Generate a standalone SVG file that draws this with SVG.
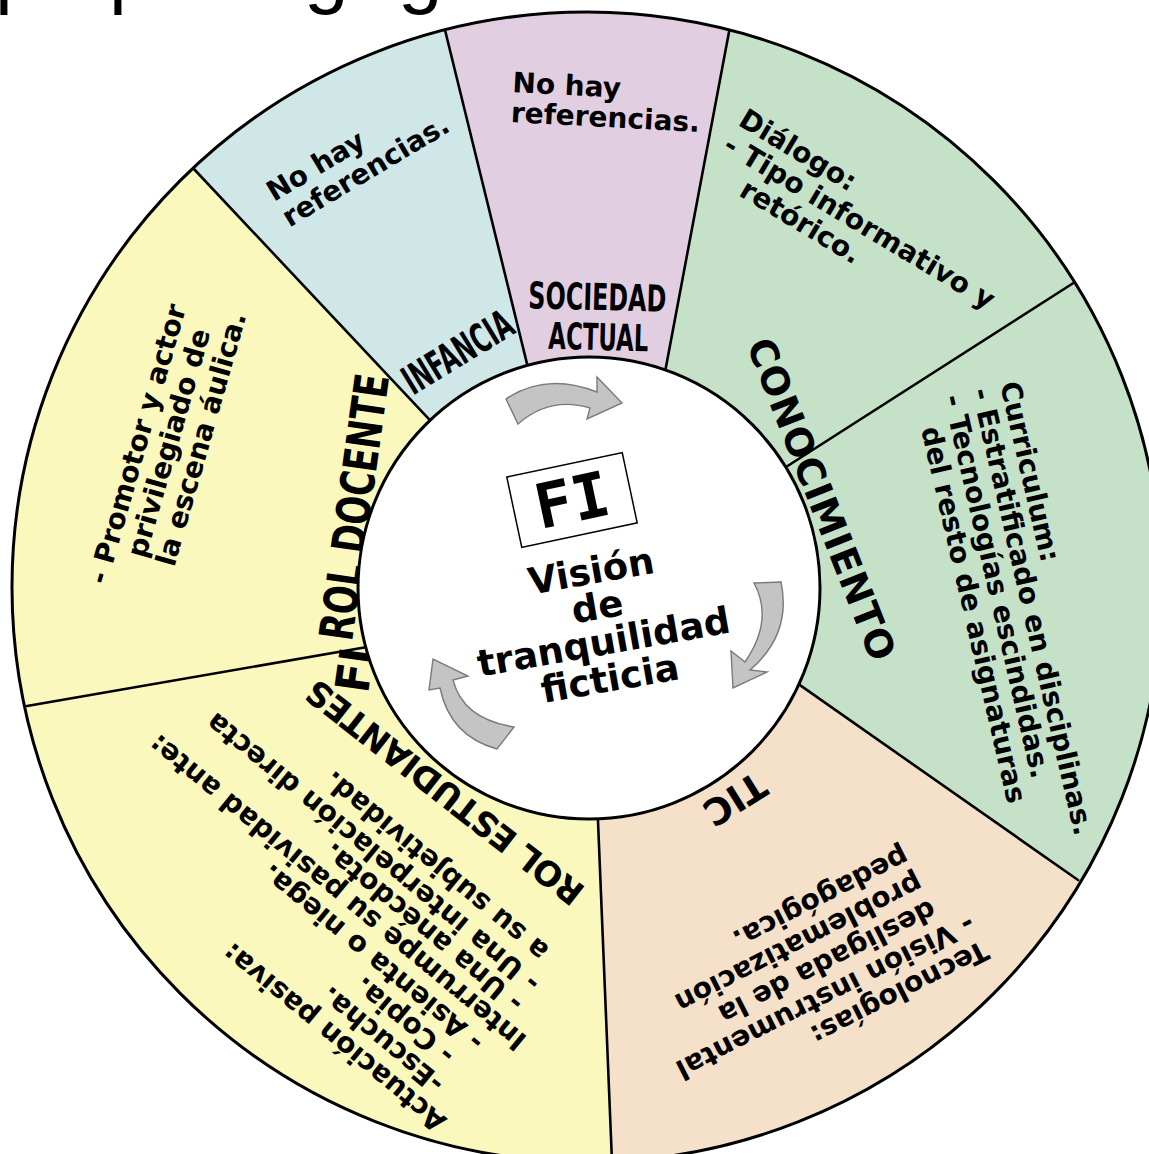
<svg xmlns="http://www.w3.org/2000/svg" width="1149" height="1154" viewBox="0 0 1149 1154">
<defs>
<style>
text{font-family:"DejaVu Sans",Verdana,"Liberation Sans",sans-serif;font-weight:bold;fill:#000}
.b{font-size:28px}
.s{font-size:28px}
.div{stroke:#000;stroke-width:2.6;fill:none;stroke-linecap:round}
.arr{fill:#C4C4C4;stroke:#7a7a7a;stroke-width:1.4;stroke-linejoin:miter}
.frag{font-family:"Liberation Sans",Arial,sans-serif;font-weight:normal;font-size:80px}
.yel{fill:#FBF8BE}
.grn{fill:#C5E2C9}
</style>
<clipPath id="rim"><circle cx="587" cy="587" r="575"/></clipPath>
</defs>
<rect width="1149" height="1154" fill="#fff"/>
<g id="title-fragment">
<text class="frag" x="-5" y="-2">p</text>
<text class="frag" x="109" y="-2">p</text>
<text class="frag" x="304" y="-2">g</text>
<text class="frag" x="398" y="-2">g</text>
</g>
<g id="wheel" clip-path="url(#rim)">
<g id="infancia">
<path fill="#CFE7E7" d="M430.1,420.3 L122,92 L208,-69 L420,-71 L527.4,365.4 A231,231 0 0 0 430.1,420.3 Z"/>
<text class="b" transform="translate(274,202) rotate(-31)"><tspan x="0" y="0">No hay</tspan><tspan x="0" y="30">referencias.</tspan></text>
<text style="font-size:40px" text-anchor="middle" textLength="122" lengthAdjust="spacingAndGlyphs" transform="translate(465,364) rotate(-31.5)">INFANCIA</text>
</g>
<g id="sociedad-actual">
<path fill="#E1CEE1" d="M527.4,365.4 L420,-71 L748,-70 L665.4,370 A231,231 0 0 0 527.4,365.4 Z"/>
<text class="b" transform="translate(512,92) rotate(3)"><tspan x="0" y="0">No hay</tspan><tspan x="0" y="30">referencias.</tspan></text>
<text style="font-size:37px" text-anchor="middle" textLength="138" lengthAdjust="spacingAndGlyphs" transform="translate(597,310) rotate(1.5)">SOCIEDAD</text>
<text style="font-size:37px" text-anchor="middle" textLength="100" lengthAdjust="spacingAndGlyphs" transform="translate(598,350) rotate(1.5)">ACTUAL</text>
</g>
<g id="conocimiento">
<path class="grn" d="M665.4,370 L748,-70 L968,-69 L1125,52 L1162,226 L786,467 A231,231 0 0 0 665.4,370 Z"/>
<path class="grn" d="M786,467 L1162,226 L1322,392 L1348,589 L1322,786 L1162,939 L798.9,684.4 A231,231 0 0 0 786,467 Z"/>
<text class="b" transform="translate(737,124.5) rotate(31)"><tspan x="0" y="0">Diálogo:</tspan><tspan x="0" y="30">- Tipo informativo y</tspan><tspan x="37" y="60">retórico.</tspan></text>
<text class="b" transform="translate(1000,384) rotate(77)"><tspan x="0" y="0">Curriculum:</tspan><tspan x="0" y="29">- Estratificado en disciplinas.</tspan><tspan x="0" y="58">- Tecnologías escindidas.</tspan><tspan x="26" y="87">del resto de asignaturas</tspan></text>
<text style="font-size:38px" text-anchor="middle" textLength="343" lengthAdjust="spacing" transform="translate(809,504) rotate(68.5)">CONOCIMIENTO</text>
</g>
<g id="tic">
<path fill="#F5E1C9" d="M798.9,684.4 L1162,939 L1125,1126 L968,1247 L785,1323 L616,1264 L597.9,818.8 A231,231 0 0 0 798.9,684.4 Z"/>
<text class="b" transform="translate(982,940) rotate(153)"><tspan x="0" y="0">Tecnologías:</tspan><tspan x="0" y="30">- Visión instrumental</tspan><tspan x="28" y="60">desligada de la</tspan><tspan x="28" y="90">problematización</tspan><tspan x="28" y="120">pedagógica.</tspan></text>
<text style="font-size:37px" text-anchor="middle" transform="translate(728,788) rotate(148)">TIC</text>
</g>
<g id="rol-estudiantes">
<path class="yel" d="M597.9,818.8 L616,1264 L391,1323 L208,1247 L51,1126 L-70,969 L-146,786 L-75,724 L365.7,647.2 A231,231 0 0 0 597.9,818.8 Z"/>
<text class="s" transform="translate(448,1119) rotate(219.5)"><tspan x="0" y="0">Actuación pasiva:</tspan><tspan x="26" y="28.5">-Escucha.</tspan><tspan x="36" y="57">- Copia.</tspan><tspan x="22" y="85.5">- Asienta o niega.</tspan><tspan x="-10" y="114">Interrumpe su pasividad ante:</tspan><tspan x="16" y="141">- Una anécdota.</tspan><tspan x="16" y="167">- Una interpelación directa</tspan><tspan x="30" y="197">a su subjetividad.</tspan></text>
<text style="font-size:34px" text-anchor="middle" textLength="342" lengthAdjust="spacing" transform="translate(452,783) rotate(218)">ROL ESTUDIANTES</text>
</g>
<g id="rol-docente">
<path class="yel" d="M365.7,647.2 L-75,724 L-172,589 L-146,392 L-70,209 L122,92 L430.1,420.3 A231,231 0 0 0 365.7,647.2 Z"/>
<text class="b" transform="translate(106.6,585.7) rotate(-74)"><tspan x="0" y="0">- Promotor y actor</tspan><tspan x="36" y="30">privilegiado de</tspan><tspan x="36" y="60">la escena áulica.</tspan></text>
<text style="font-size:47px" textLength="268" lengthAdjust="spacingAndGlyphs" transform="translate(352,642) rotate(-82)">ROL DOCENTE</text>
<text style="font-size:47px" textLength="44" lengthAdjust="spacingAndGlyphs" transform="translate(368,694) rotate(-82)">FI</text>
</g>
<g id="dividers">
<line class="div" x1="445" y1="30" x2="527.4" y2="365.4"/>
<line class="div" x1="729" y1="32" x2="665.4" y2="370"/>
<line class="div" x1="1075" y1="282" x2="786" y2="467"/>
<line class="div" x1="1078" y1="880" x2="798.9" y2="684.4"/>
<line class="div" x1="612" y1="1162" x2="597.9" y2="818.8"/>
<line class="div" x1="27" y1="706" x2="365.7" y2="647.2"/>
<line class="div" x1="193" y1="168" x2="430.1" y2="420.3"/>
</g>
</g>
<circle id="rim-line" cx="587" cy="587" r="575" fill="none" stroke="#000" stroke-width="3"/>
<g id="fi-centro">
<circle cx="589" cy="588" r="231" fill="#fff" stroke="#000" stroke-width="3"/>
<g transform="translate(572,500) rotate(-12)">
<rect x="-59" y="-36" width="118" height="72" fill="#fff" stroke="#000" stroke-width="1.5"/>
<text x="0" y="22" text-anchor="middle" style="font-family:'DejaVu Sans Mono',monospace;font-size:62px">FI</text>
</g>
<text style="font-size:37px" text-anchor="middle" transform="translate(600,622) rotate(-10)"><tspan x="0" y="-39">Visión</tspan><tspan x="0" y="-3">de</tspan><tspan x="0" y="33">tranquilidad</tspan><tspan x="0" y="70">ficticia</tspan></text>
<path class="arr" d="M506,399 Q546,372 597,392 L597,377 L622,403 L587,419 L590,408 Q550,396 518,424 Z"/>
<path class="arr" d="M754,583 L781,582 Q792,634 750,670 L767,672 L733,688 L731,651 L745,662 Q774,620 754,583 Z"/>
<path class="arr" d="M497,749 Q450,736 440,688 L429,690 L433,659 L468,676 L453,680 Q463,719 514,727 Z"/>
</g>
</svg>
